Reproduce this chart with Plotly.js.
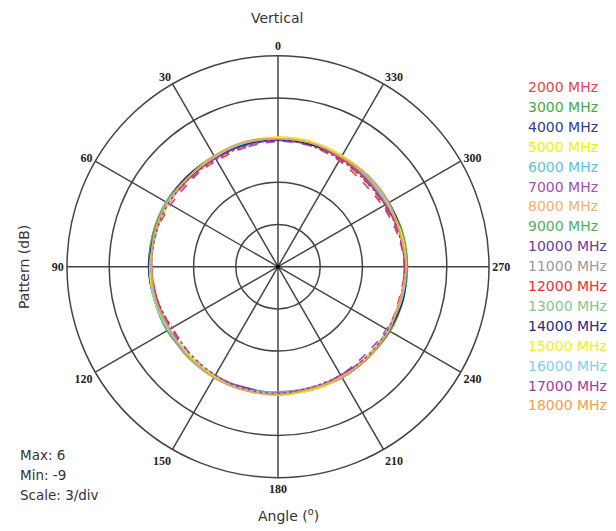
<!DOCTYPE html>
<html>
<head>
<meta charset="utf-8">
<script src="https://cdn.plot.ly/plotly-3.0.1.min.js"></script>
<style>html,body{margin:0;padding:0;background:#fff;}#chart{width:616px;height:531px;}</style>
</head>
<body>
<div id="chart"></div>
<script>
// Angles (degrees) at which the pattern was read
const angles = [0,15,30,45,60,75,90,105,120,135,150,165,180,195,210,225,240,255,270,285,300,315,330,345];

// Series names and colours
const seriesNames = ["2000 MHz","3000 MHz","4000 MHz","5000 MHz","6000 MHz","7000 MHz","8000 MHz","9000 MHz","10000 MHz","11000 MHz","12000 MHz","13000 MHz","14000 MHz","15000 MHz","16000 MHz","17000 MHz","18000 MHz"];
const seriesColors = ["#e04848","#44aa44","#2c3e8c","#f2f200","#5cc4d6","#a050b0","#f0b070","#50b060","#6a3c9a","#9a9a9a","#e83030","#80c890","#1c2c80","#f0f020","#80d0e8","#a03c9c","#f0a050"];

// Pattern values (dB), one array per frequency
const p2000  = [0.0,-0.2,-0.3,-0.2,0.0,0.1,0.1,0.0,-0.3,-0.2,0.0,0.1,0.0,-0.1,0.0,0.1,0.0,-0.1,0.0,-0.2,-0.4,-0.5,-0.3,-0.1];
const p3000  = [0.1,0.1,0.0,0.1,0.2,0.2,0.2,0.1,0.1,0.0,0.1,0.1,0.1,0.0,0.1,0.1,0.2,0.2,0.2,0.2,0.1,0.1,0.1,0.1];
const p4000  = [0.0,0.1,0.0,0.0,0.1,0.1,0.2,0.1,0.0,0.0,0.1,0.0,0.0,0.0,0.1,0.1,0.1,0.1,0.1,0.1,0.0,0.1,0.0,0.0];
const p5000  = [0.2,0.1,0.1,0.0,0.1,0.0,0.1,0.0,-0.1,0.0,0.0,0.1,0.1,0.1,0.0,0.1,0.0,0.0,0.1,0.0,0.0,0.1,0.1,0.2];
const p6000  = [0.1,0.0,0.1,0.1,0.2,0.1,0.1,0.1,0.0,0.0,0.0,0.1,0.0,0.1,0.1,0.0,0.1,0.1,0.0,0.1,0.0,0.0,0.1,0.1];
const p7000  = [-0.1,-0.2,-0.1,-0.3,-0.2,0.0,0.0,-0.1,-0.2,-0.1,0.0,0.0,-0.1,0.0,-0.1,-0.2,-0.1,0.0,0.0,-0.1,-0.3,-0.3,-0.2,-0.1];
const p8000  = [0.2,0.1,0.0,0.0,0.1,0.1,0.1,0.0,0.0,-0.1,0.1,0.1,0.0,0.0,0.1,0.1,0.0,0.0,0.1,0.0,0.1,0.0,0.1,0.2];
const p9000  = [0.1,0.0,0.1,0.1,0.1,0.2,0.1,0.1,0.1,0.0,0.0,0.0,0.0,0.1,0.0,0.0,0.1,0.1,0.2,0.1,0.1,0.1,0.0,0.1];
const p10000 = [0.0,0.0,-0.1,0.0,0.1,0.1,0.1,0.0,0.0,0.0,0.0,-0.1,0.0,0.0,0.0,0.1,0.1,0.1,0.1,0.0,0.0,0.0,0.0,0.0];
const p11000 = [0.0,-0.1,0.0,0.0,0.0,0.1,0.0,0.0,-0.1,0.0,-0.1,0.0,-0.1,-0.1,0.0,0.0,0.0,0.0,0.1,0.0,-0.1,-0.1,0.0,0.0];
const p12000 = [0.1,0.0,-0.1,-0.1,0.0,0.1,0.0,-0.1,-0.1,0.0,0.0,0.0,0.0,0.0,-0.1,0.0,0.0,0.1,0.0,0.0,-0.2,-0.2,-0.1,0.0];
const p13000 = [0.1,0.1,0.1,0.0,0.1,0.1,0.1,0.0,0.0,0.1,0.1,0.0,0.1,0.0,0.1,0.0,0.1,0.1,0.1,0.1,0.0,0.0,0.1,0.1];
const p14000 = [0.0,0.0,0.0,0.1,0.1,0.1,0.1,0.0,0.0,0.0,0.0,0.0,0.0,0.0,0.1,0.1,0.1,0.2,0.1,0.1,0.1,0.0,0.0,0.0];
const p15000 = [0.2,0.2,0.1,0.0,0.0,0.0,0.1,0.1,0.0,-0.1,0.0,0.1,0.1,0.1,0.1,0.0,0.0,0.0,0.1,0.1,0.0,0.1,0.1,0.2];
const p16000 = [0.1,0.1,0.0,0.0,0.1,0.0,0.0,0.1,0.0,0.0,0.1,0.0,0.0,0.0,0.0,0.1,0.0,0.1,0.1,0.0,0.0,0.0,0.0,0.1];
const p17000 = [0.0,-0.1,-0.2,-0.1,0.0,0.0,0.0,-0.1,-0.3,-0.2,-0.1,0.0,0.0,-0.1,-0.1,0.0,0.0,0.0,0.0,-0.1,-0.2,-0.3,-0.2,-0.1];
const p18000 = [0.1,0.2,0.1,0.0,0.1,0.1,0.0,0.0,-0.1,0.0,0.1,0.1,0.1,0.0,0.1,0.1,0.1,0.0,0.1,0.0,0.1,0.1,0.0,0.1];

const patterns = [p2000,p3000,p4000,p5000,p6000,p7000,p8000,p9000,p10000,p11000,p12000,p13000,p14000,p15000,p16000,p17000,p18000];
const seriesDash = ["dash","solid","solid","solid","solid","dash","solid","solid","solid","solid","solid","solid","solid","solid","solid","dot","solid"];

// Radial scale
const rMin = -9, rMax = 6, rStep = 3;
const angleTicks = [0,30,60,90,120,150,180,210,240,270,300,330];
const infoLines = ["Max: 6","Min: -9","Scale: 3/div"];

const traces = patterns.map((vals, i) => ({
  type: "scatterpolar",
  mode: "lines",
  name: seriesNames[i],
  theta: angles.concat([angles[0] + 360]),
  r: vals.concat([vals[0]]),
  line: {color: seriesColors[i], width: 1.6, dash: seriesDash[i], shape: "spline"},
  showlegend: false,
  hoverinfo: "skip"
}));
// centre dot
traces.push({type: "scatterpolar", mode: "markers", r: [rMin], theta: [0],
  marker: {color: "#000", size: 4}, showlegend: false, hoverinfo: "skip"});

const annotations = [];
seriesNames.forEach((n, i) => {
  annotations.push({
    xref: "paper", yref: "paper", x: 526/616, y: 1 - (87 + i*19.9)/531,
    xanchor: "left", yanchor: "middle", showarrow: false, text: n,
    font: {family: "DejaVu Sans", size: 14, color: seriesColors[i]}
  });
});
infoLines.forEach((t, i) => {
  annotations.push({
    xref: "paper", yref: "paper", x: 18/616, y: 1 - (455 + i*20)/531,
    xanchor: "left", yanchor: "middle", showarrow: false, text: t,
    font: {family: "DejaVu Sans", size: 13.5, color: "#333"}
  });
});
annotations.push({xref: "paper", yref: "paper", x: 277/616, y: 1 - 18/531, xanchor: "center", yanchor: "middle",
  showarrow: false, text: "Vertical", font: {family: "DejaVu Sans", size: 14, color: "#333"}});
annotations.push({xref: "paper", yref: "paper", x: 288/616, y: 1 - 515/531, xanchor: "center", yanchor: "middle",
  showarrow: false, text: "Angle (<sup>o</sup>)", font: {family: "DejaVu Sans", size: 14, color: "#333"}});
annotations.push({xref: "paper", yref: "paper", x: 24/616, y: 1 - 267/531, xanchor: "center", yanchor: "middle",
  showarrow: false, textangle: -90, text: "Pattern (dB)", font: {family: "DejaVu Sans", size: 14, color: "#333"}});

const layout = {
  width: 616, height: 531,
  margin: {l: 0, r: 0, t: 0, b: 0},
  paper_bgcolor: "#fff",
  showlegend: false,
  annotations: annotations,
  polar: {
    domain: {x: [67/616, 489/616], y: [1 - 477.7/531, 1 - 55.7/531]},
    bgcolor: "#fff",
    radialaxis: {
      range: [rMin, rMax], tickvals: [rMin, rMin+rStep, rMin+2*rStep, rMin+3*rStep, rMin+4*rStep, rMax],
      showticklabels: false, ticks: "", showline: false,
      gridcolor: "#444", gridwidth: 1.5
    },
    angularaxis: {
      rotation: 90, direction: "counterclockwise",
      tickvals: angleTicks, ticktext: angleTicks.map(String), ticks: "",
      showline: true, linecolor: "#444", linewidth: 1.5,
      gridcolor: "#444", gridwidth: 1.5,
      tickfont: {family: "Liberation Serif", size: 12, color: "#222", weight: "bold"}
    }
  }
};

Plotly.newPlot("chart", traces, layout, {staticPlot: true, displayModeBar: false});
</script>
</body>
</html>
